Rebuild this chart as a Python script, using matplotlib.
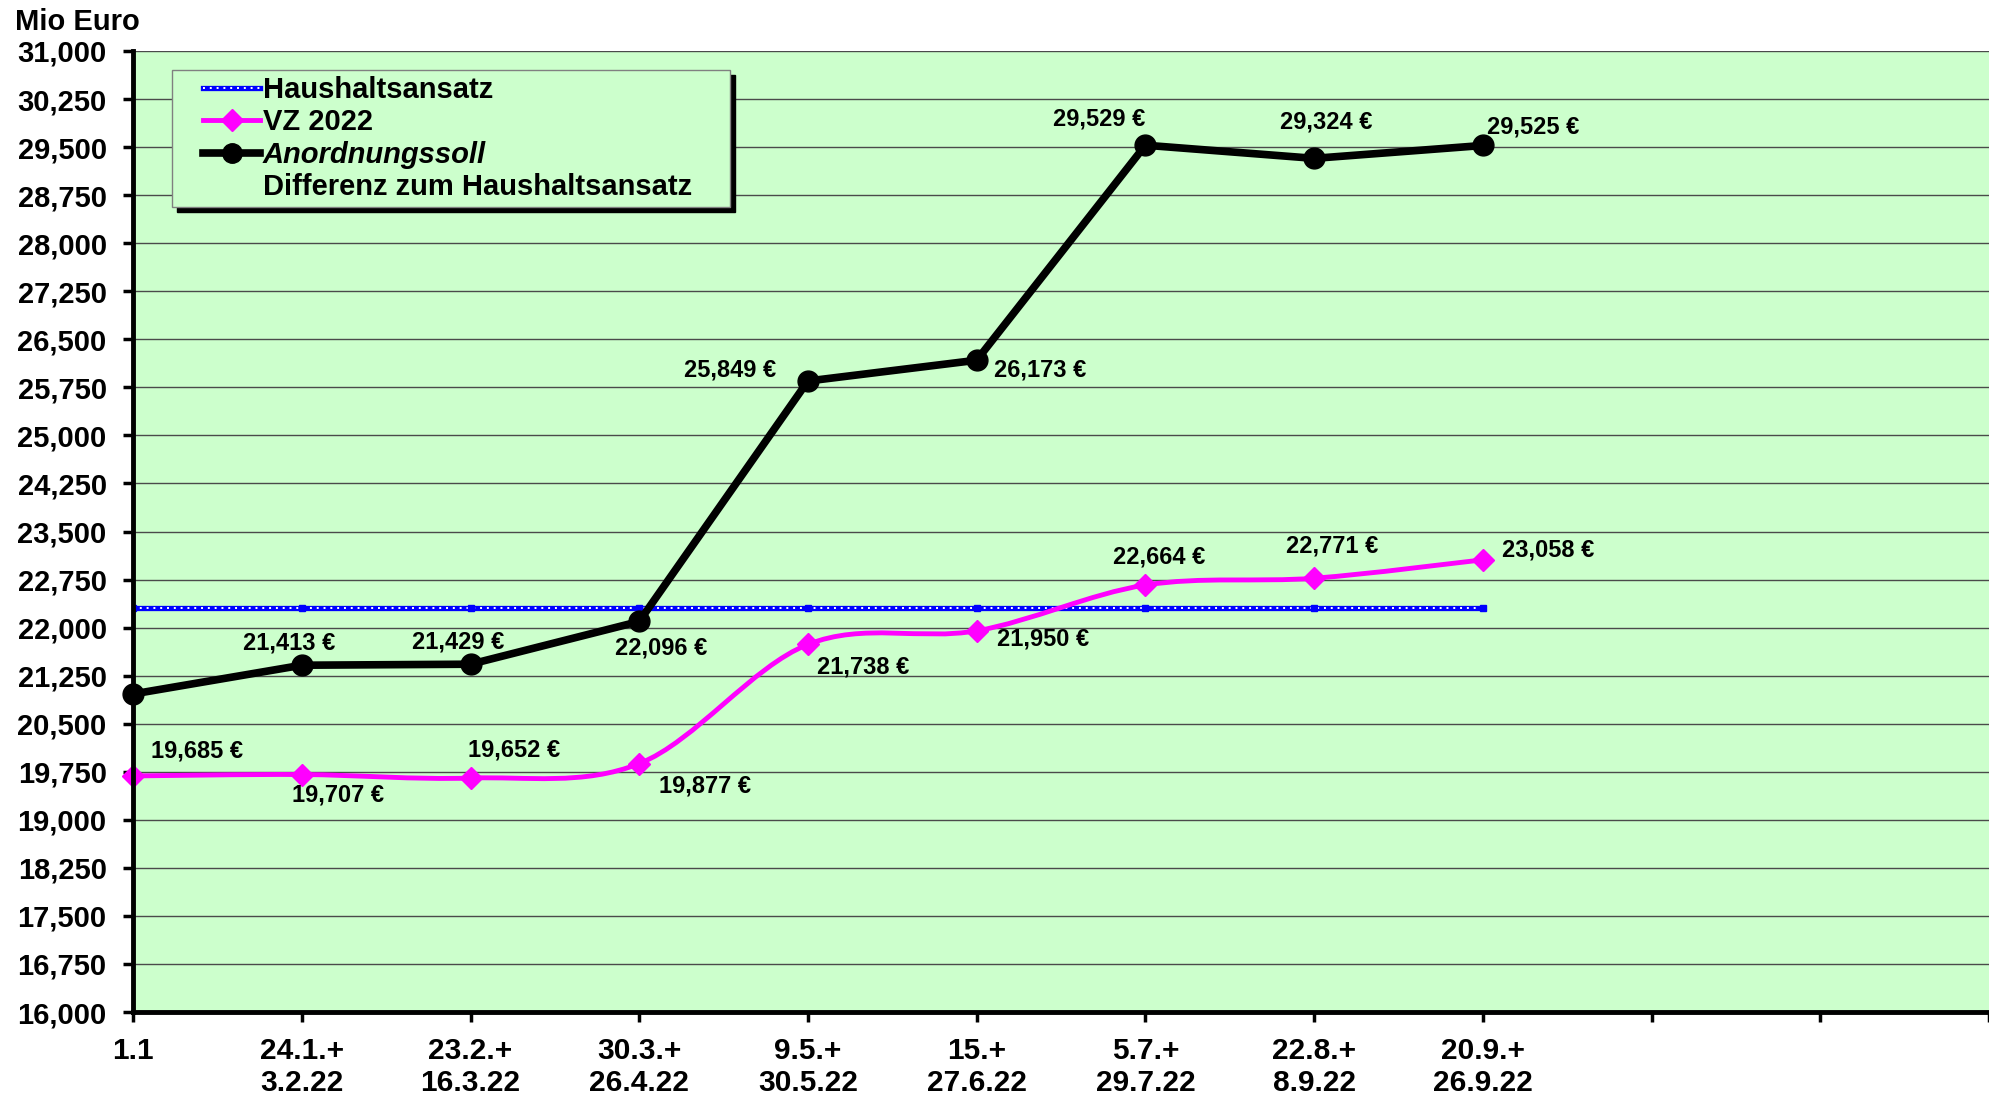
import matplotlib
matplotlib.use("Agg")
import matplotlib.pyplot as plt
from matplotlib.lines import Line2D
from matplotlib.path import Path
from matplotlib.patches import PathPatch
from matplotlib.legend_handler import HandlerTuple, HandlerLine2D

plt.rcParams['font.family'] = ['Liberation Sans', 'DejaVu Sans']
plt.rcParams['font.weight'] = 'bold'

# data (Mio Euro)
dates = ["1.1", "24.1.+\n3.2.22", "23.2.+\n16.3.22", "30.3.+\n26.4.22",
         "9.5.+\n30.5.22", "15.+\n27.6.22", "5.7.+\n29.7.22",
         "22.8.+\n8.9.22", "20.9.+\n26.9.22"]
n_slots = 12
haushaltsansatz = 22300
vz_2022 = [19685, 19707, 19652, 19877, 21738, 21950, 22664, 22771, 23058]
anordnungssoll = [20964, 21413, 21429, 22096, 25849, 26173, 29529, 29324, 29525]

# label offsets in points (None = no label)
anord_offsets = [None, (-9, 16), (-9, 16), (16, -19), (-56, 8), (46, -7),
                 (-33, 19), (9, 26), (36, 13)]
vz_offsets = [(46, 18), (26, -15), (31, 20), (47, -16), (40, -16), (48, -6),
              (10, 20), (13, 23), (47, 7)]

BG = '#CCFFCC'
MAGENTA = '#FF00FF'
BLUE = '#0000FF'


def smooth_path(xs, ys):
    """Excel-like smoothed line as cubic bezier segments."""
    pts = list(zip(xs, ys))
    verts = [pts[0]]
    codes = [Path.MOVETO]
    for i in range(len(pts) - 1):
        p0 = pts[i - 1] if i > 0 else pts[i]
        p1 = pts[i]
        p2 = pts[i + 1]
        p3 = pts[i + 2] if i + 2 < len(pts) else pts[i + 1]
        c1 = (p1[0] + (p2[0] - p0[0]) / 6, p1[1] + (p2[1] - p0[1]) / 6)
        c2 = (p2[0] - (p3[0] - p1[0]) / 6, p2[1] - (p3[1] - p1[1]) / 6)
        verts += [c1, c2, p2]
        codes += [Path.CURVE4] * 3
    return Path(verts, codes)


fig = plt.figure(figsize=(19.89, 10.96), dpi=100)
ax = fig.add_axes([0.0669, 0.0766, 0.9331, 0.8769])
ax.set_facecolor(BG)

x = list(range(len(dates)))

# Haushaltsansatz: blue line with white dots
ax.plot([x[0], x[-1]], [haushaltsansatz, haushaltsansatz], color=BLUE, lw=3.8,
        solid_capstyle='butt', zorder=3)
ax.plot([x[0], x[-1]], [haushaltsansatz, haushaltsansatz], color='white', lw=1.4,
        linestyle=(0, (1, 2.5)), zorder=3.1)
ax.plot(x, [haushaltsansatz] * len(x), linestyle='none', marker='s', ms=4,
        color=BLUE, zorder=3.2)

# VZ 2022: smoothed magenta line with diamonds
ax.add_patch(PathPatch(smooth_path(x, vz_2022), fill=False, edgecolor=MAGENTA,
                       lw=3.5, zorder=4))
ax.plot(x, vz_2022, linestyle='none', marker='D', ms=11, color=MAGENTA,
        zorder=4.1, clip_on=False)

# Anordnungssoll: black line with circles
ax.plot(x, anordnungssoll, color='black', lw=5.5, marker='o', ms=15,
        zorder=5, clip_on=False)

for xi, v, off in zip(x, anordnungssoll, anord_offsets):
    if off is None:
        continue
    ax.annotate(f"{v:,.0f} €", (xi, v), xytext=off, textcoords='offset points',
                ha='center', va='center', fontsize=17, fontweight='bold', zorder=6)
for xi, v, off in zip(x, vz_2022, vz_offsets):
    ax.annotate(f"{v:,.0f} €", (xi, v), xytext=off, textcoords='offset points',
                ha='center', va='center', fontsize=17, fontweight='bold', zorder=6)

# axes
ax.set_xlim(0, n_slots - 1)
ax.set_ylim(16000, 31000)
yt = list(range(16000, 31001, 750))
ax.set_yticks(yt)
ax.set_yticklabels([f"{v:,}" for v in yt], fontsize=21, fontweight='bold')
ax.set_xticks(range(n_slots))
ax.set_xticklabels(dates + [""] * (n_slots - len(dates)), fontsize=21.5,
                   fontweight='bold', linespacing=1.18, va='top')
ax.tick_params(axis='y', length=7, width=2.5, pad=12, direction='out')
ax.tick_params(axis='x', length=7, width=2.5, pad=11, direction='out')
ax.yaxis.grid(True, color='#4a4a4a', lw=1)
ax.set_axisbelow(True)
for s in ['top', 'right']:
    ax.spines[s].set_visible(False)
for s in ['left', 'bottom']:
    ax.spines[s].set_linewidth(3.5)
    ax.spines[s].set_zorder(7)

fig.text(0.0075, 0.993, "Mio Euro", ha='left', va='top', fontsize=21,
         fontweight='bold')

# legend
h_blue = (Line2D([], [], color=BLUE, lw=3.8),
          Line2D([], [], color='white', lw=1.4, linestyle=(0, (1, 2.5))))
h_vz = Line2D([], [], color=MAGENTA, lw=3.5, marker='D', ms=11)
h_an = Line2D([], [], color='black', lw=5.5, marker='o', ms=14)
h_diff = Line2D([], [], color='none')
line_handler = HandlerLine2D(xpad=0.86)
leg = ax.legend([h_blue, h_vz, h_an, h_diff],
                ["Haushaltsansatz", "VZ 2022", "Anordnungssoll",
                 "Differenz zum Haushaltsansatz    "],
                handler_map={tuple: HandlerTuple(ndivide=1, pad=0, xpad=0.86),
                             Line2D: line_handler},
                loc='upper left', bbox_to_anchor=(0.021, 0.980), borderaxespad=0,
                fontsize=21, handlelength=2.82, handletextpad=0.1,
                labelspacing=0.15, borderpad=0.2, fancybox=False,
                facecolor=BG, edgecolor='#808080', framealpha=1,
                shadow={'ox': 3.5, 'oy': -3.5, 'color': 'black', 'alpha': 1})
leg.get_frame().set_linewidth(1)
leg.set_zorder(8)
for t in leg.get_texts():
    t.set_fontweight('bold')
leg.get_texts()[2].set_style('italic')

fig.savefig("out.png", dpi=100)
